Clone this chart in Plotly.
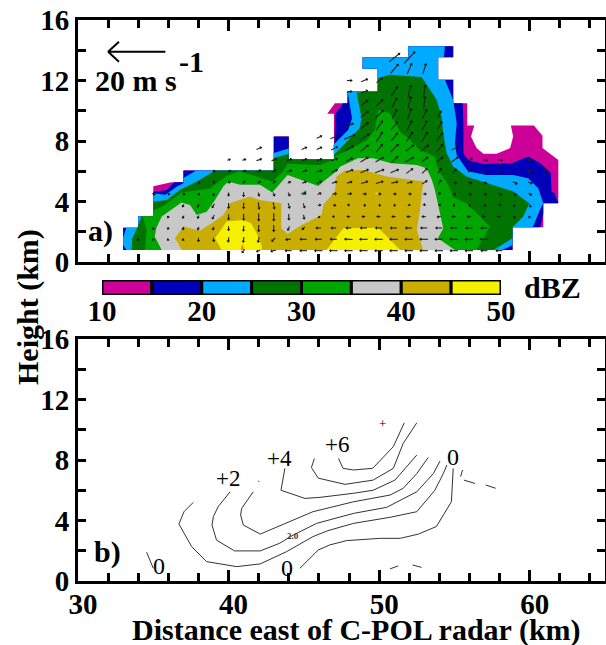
import math
import plotly.graph_objects as go

W, H = 606, 645
FONT = "Liberation Serif"

# --- panel a: reflectivity areas (km east, km height); each is painted over the previous one
dbz_levels = [10, 15, 20, 25, 30, 35, 40, 45]
dbz_colors = ["#CC0099", "#0000BB", "#00AAFF", "#007300", "#00A600", "#C8C8C8", "#C9AD00", "#F5F000"]

area_x_10 = [33,33,34,34,35,35,36.2,37,37,43,43,44,44,47,47,46.55,47.06,47.9,47.9,49.9,49.9,48.9,48.9,51.93,51.93,54.92,54.92,53.92,53.92,54.92,54.92,55.85,55.85,56.32,56.1,56.47,56.92,57.8,58.7,58.9,58.75,60.28,60.85,60.85,61.9,61.9,60.9,60.9,58.86,58.86]
area_y_10 = [.8,2.27,2.27,3.03,3.03,5.0,5.27,5.27,6.05,6.05,8.3,8.3,6.8,6.8,9.8,9.8,10.5,10.5,11.28,11.28,12.78,12.78,13.53,13.53,14.26,14.26,13.53,13.53,12.05,12.05,10.5,10.5,9.03,9.03,8.3,7.53,7.15,7.15,7.53,8.3,9.03,9.03,8.34,7.53,6.75,3.88,3.88,2.3,2.3,.8]

area_x_15 = [33,33,34,34,35,35,35.85,36.4,37,37,43,43,44,44,47,47.05,47.1,47.6,47.9,47.9,49.9,49.9,48.9,48.9,51.93,51.93,54.92,54.92,53.92,53.92,54.92,54.92,55.55,55.6,55.6,55.92,56.92,58.8,59.9,60.7,61.4,61.45,61.65,61.9,60.9,60.9,60.7,58.86,58.86]
area_y_15 = [.8,2.27,2.27,3.03,3.03,4.65,4.75,5.27,5.27,6.05,6.05,8.3,8.3,6.8,6.8,8.7,9.8,10.5,10.5,11.28,11.28,12.78,12.78,13.53,13.53,14.26,14.26,13.53,13.53,12.05,12.05,10.5,10.5,9.03,7.15,6.75,6.48,6.53,6.97,6.53,5.9,4.65,4.55,3.88,3.88,3.2,2.3,2.3,.8]

area_x_20 = [33.23,33,33,33.2,34,34,35,35,35.8,36.6,37,37,37.85,43,43,44,44,47,46.95,47.95,48.2,47.95,47.9,49.9,49.9,48.9,48.9,51.93,51.93,54.37,54.3,53.92,53.92,54.37,54.92,55.15,55.03,55.15,55.5,55.9,57.1,58.9,59.9,60.57,60.9,60.68,60.2,58.86,58.86,58.15]
area_y_20 = [.8,1.1,1.6,2.27,2.27,3.03,3.03,4.55,4.45,5.0,5.2,5.55,6.05,6.05,7.2,7.5,6.8,6.8,7.74,8.74,9.5,10.83,11.28,11.28,12.78,12.78,13.53,13.53,14.26,14.26,13.55,13.53,12.05,12.05,10.7,9.18,7.86,7.08,6.6,6.0,5.76,5.76,5.54,4.87,3.88,3.45,2.3,2.3,1.1,.8]

area_x_25 = [33.56,33.6,33.94,34.23,35,35,35.9,36.8,37.9,39.1,43,43,44,44,47,47,48.17,48.7,48.83,48.5,49.9,49.94,50.7,52.82,53.82,54.15,54.26,54.48,54.92,55.8,58.9,59.97,59.57,58.86,58.86,57.6]
area_y_25 = [.8,1.57,2.27,3.03,3.03,3.99,4.1,4.8,5.32,6.05,6.05,6.87,7.15,6.8,6.8,7.08,8.3,8.85,9.5,11.21,11.28,12.16,12.38,12.23,10.73,9.62,8.52,7.2,6.31,5.65,4.66,3.88,3.0,2.3,1.57,.8]

area_x_30 = [34.45,34.55,34.3,35,35,35.67,36.88,38.77,39.87,40.76,42.9,43.6,43.92,46.07,46.95,47.06,48.17,49.17,49.72,49.94,50.72,51.38,52.05,52.7,53.7,53.93,54.6,54.9,55.8,57.36,56.47]
area_y_30 = [.8,2.1,3.03,3.03,3.4,3.71,4.59,4.88,5.7,6.0,5.32,5.98,6.5,6.42,6.76,6.97,7.52,8.07,8.74,10.07,9.84,8.63,8.08,7.4,6.97,6.1,5.1,4.3,3.88,2.34,.8]

area_x_35 = [35.56,35.1,35.2,35.56,36.88,37.44,37.88,38.55,39.1,39.65,39.98,40.76,42.08,42.9,43.92,45.96,46.3,47.17,47.4,48.6,49.6,50.8,52.5,53.15,53.5,53.7,54.04,54.26,53.9,55.03]
area_y_35 = [.8,1.68,2.23,3,3.93,3.77,3.11,3.33,4.1,4.99,5.32,5.1,5.1,4.59,5.76,5.03,5.32,6,6.3,6.86,6.86,6.53,6.42,6.2,5.43,4.77,3.22,2.23,1.57,.8]

area_x_40 = [36.9,36.44,37,38.1,38.87,39.65,40.1,41.4,42.08,43.5,43.5,43.92,44.85,46.18,46.3,47.06,47.17,47.73,48.95,50.5,52.93,52.71,52.5,52.93]
area_y_40 = [.8,1.57,2.34,2.07,2.56,3.1,3.88,4.33,4.1,3.88,2.23,1.85,2.45,3.1,3.8,4.66,5.65,6.05,6.09,5.65,5.32,3.44,2.1,.8]

area_x_45a = [39.54,39.1,39.87,40.98,41.5,41.86,42.2,42.2]
area_y_45a = [.8,1.57,2.67,2.78,2.56,1.9,1.1,.8]
area_x_45b = [46.5,47.62,49.94,50.5,51.4]
area_y_45b = [.8,2.23,2.27,1.68,.8]

patch_green_x, patch_green_y = [44.75,45.15,45.15], [4.5,4.75,4.45]
patch_orange_x, patch_orange_y = [40.8,40.9,41.05], [.8,1.2,.8]
patch_yellow_x, patch_yellow_y = [49.65,49.95,49.9], [4.55,4.6,4.5]

# --- panel a: wind (m/s along the picture's axes), one row per height
wind_rows = [
    (0.75, 41, [-.8,-1,-1.5,-2,-2.2,-2.5,-2.5,-2.5,-2.5,-2.5,-2.5,-2.5,-2.5,-2.5,-2.5,-2.5,-2,-2], [-1,-.5,-.3,0,0,0,0,0,0,0,0,0,0,0,0,0,0,0]),
    (1.5, 34, [-.2,-.2,-.3,-.3,0,.2,-.2,-.2,-.3,-1,-1.5,-2,-2,-2,-2.5,-2.5,-2.5,-2.5,-2.5,-2.5,-2.5,-2.5,-2.5,-2.5], [-.3,-.3,-.3,-.3,-1,-1,-1.3,-1.5,-1.5,-1,-.2,0,0,0,.1,0,0,0,0,0,0,0,0,0]),
    (2.25, 35, [0,-.2,-.3,-.3,-.3,0,-.1,0,0,-.5,-.8,-1.5,-1.5,-1.5,-2,-2,-2,-2,-2,-2,-2,-2,-2], [-.5,-.5,-.7,-.8,-.8,-1.2,-1.6,-2,-2,-1.2,-.7,0,0,0,0,0,0,0,0,0,0,0,0]),
    (3, 36, [-.2,-.3,-.4,-.6,0,0,0,0,.1,.2,.2,-.4,-.8,-.8,-1,-1,-1,-1,-1,-1,-1,-1,-.8,-.3,-.2], [-.4,-.7,-.8,-1.1,-1.7,-2,-2.3,-2.4,-1.8,-1.2,-.3,0,0,0,0,0,0,0,-.2,0,0,0,0,-.5,-.4]),
    (3.75, 37, [-.4,-.5,-.7,0,0,.3,.4,.4,.4,.8,.7,-.4,.5,.4,.3,0,.1,.3,-.4,.3,.3,.2,-.3,.5], [-.7,-.8,-1.1,-1.6,-1.8,-2,-2,-1.5,-1.3,.2,0,.2,0,0,0,.2,.5,.3,0,-.2,-.2,.3,-.4,-.7]),
    (4.5, 35, [.7,.5,.6,.3,0,0,0,.2,.4,.5,.9,1,1.2,1.2,1,.7,.8,.8,.8,.2,.2,.8,.8,.8,.8,.8], [-.2,-.2,0,-.3,-.7,-1,-1.2,-1,-.9,-.9,.4,.4,.2,.2,0,0,0,0,0,.7,-.4,-.3,-.3,-.4,-.5,-.5]),
    (5.25, 38, [.5,.3,.7,.5,.7,.7,.7,1.2,1.2,1.5,1.5,2,2.2,2,1.5,1.5,.8,1,1,1,0,1.2,1.2], [0,.3,.3,.7,.7,.7,.5,.5,.7,.5,.5,.6,.7,.5,.4,1,1.3,-.3,-.3,-.3,0,-.6,-.4]),
    (6, 39, [.5,1,1,1,1,1.5,1.5,1.5,1.8,2.2,2.5,2.8,2.5,2,1.5,1,1,1,1.2,1.2,0,1.5,1.2], [.1,.2,.3,.5,.5,.5,.5,.5,.8,.8,1,1,1,1.5,1.5,1.5,1,.5,-.3,-.3,0,-.8,-.3]),
    (6.75, 40, [.7,1,1.5,1.5,1.5,1.5,1.5,1.8,2,2.5,2.5,2,2.5,2,2,2,1.5,1.5,1.5,0,1.5], [.3,.3,.5,.5,.5,.5,.5,.8,1,1.5,1.5,2,1.5,1.5,1.5,1.5,1,-.3,-.2,0,-.8]),
    (7.5, 42, [1.5,0,0,1.5,1.5,2,2.5,2.5,2,2.5,2.5,2.5,2,2], [.7,0,0,.7,.7,1,1.5,2,2.5,2.5,2,2,2.5,1]),
    (8.25, 46, [1.5,2.5,3.5,3,2,2,2,2,2], [.7,1,1.5,2,3,2.5,3,3,2.5]),
    (9, 48, [2.5,2.5,2,2,1.5,1.5,1.5], [1.5,2,3,2.5,3,3,2.5]),
    (9.75, 49, [2.5,2.5,1.5,1.2,1.5,1], [2,2.5,3,3.5,3,2]),
    (10.5, 49, [2.2,2.2,1.5,1,.5], [1.7,2,3,4,4]),
    (11.25, 48, [1.5,2,0,2,1,.7], [.2,.8,0,3,4,4]),
    (12, 48, [1.5,2,1.8], [0,.8,1.5]),
    (12.75, 51, [2.5,1.5,1], [3,3.5,3.3]),
    (13.5, 51, [3.5,3.5], [2.8,3.8]),
]
KM_PER_MS = 0.19
ref_speed = 20
ref_head_x, ref_y = 32.0, 13.9

# --- panel b: anomaly contour lines
c0_x = [44.74,45.96,46.7,47.84,50.05,51.4,52.6,53.8,54.8,54.92]
c0_y = [.84,2.05,2.38,2.67,2.82,2.82,3.1,3.6,5.24,7.45]
c1_x = [37.66,37.04,36.7,37.55,38.54,40.54,42.1,43.85,45.6,46.6,48.3,50.72,52.5,53.7,54.26,54.5]
c1_y = [5.2,4.58,3.77,2.27,1.28,.95,1.13,1.94,2.93,3.33,3.81,4.21,4.58,6.0,7.1,7.67]
c2_x = [40.1,39.3,38.99,38.9,39.2,40.4,42.1,43.4,44.3,45.85,48.3,50.5,52.5,53.6,54.04]
c2_y = [5.9,4.9,4.25,3.7,2.7,1.99,1.99,2.5,3.04,3.81,4.47,4.87,5.9,7.1,7.93]
c3_x = [41.64,40.87,40.8,40.98,42.1,44.3,45.6,48.3,50.72,51.6,52.5,53.26]
c3_y = [5.9,4.8,4.36,3.7,3.1,4.03,4.58,5.24,5.68,6.13,7.1,8.17]
c4_x = [43.74,43.48,45.07,46.07,48.3,49.6,51.05,51.93,52.5]
c4_y = [7.45,6.0,5.46,5.53,5.8,6.0,6.67,7.67,8.33]
c5_x = [45.7,45.5,45.96,47.2,47.73,49.6,50.94,51.6,52.5]
c5_y = [8.1,7.5,6.8,6.5,6.39,6.67,7.45,9.1,10.46]
c6_x = [47.3,47.6,48.3,49.57,50.94,51.67]
c6_y = [8.1,7.45,7.34,7.45,8.88,10.46]
c7_x, c7_y = [34.56,35], [1.9,.84]
c8_x, c8_y = [42,42.02], [6.63,6.55]
c9_x, c9_y = [55.54,55.41], [7.34,6.9]
c10_x, c10_y = [55.63,56.36], [6.67,6.45]
c11_x, c11_y = [57.07,57.74], [6.35,6.13]
c12_x, c12_y = [50.72,51.27], [.8,1.0]
c13_x, c13_y = [52.22,52.82], [1.06,.9]
contour_lines = [(c0_x,c0_y),(c1_x,c1_y),(c2_x,c2_y),(c3_x,c3_y),(c4_x,c4_y),(c5_x,c5_y),(c6_x,c6_y),
                 (c7_x,c7_y),(c8_x,c8_y),(c9_x,c9_y),(c10_x,c10_y),(c11_x,c11_y),(c12_x,c12_y),(c13_x,c13_y)]
contour_labels = [("+2",39.96,6.8,23),("+4",43.4,8.12,23),("+6",47.2,9.05,23),("0",35.38,.99,24),
                  ("0",43.88,.86,24),("0",54.9,8.19,24),("+",50.25,10.44,13)]

y_ticks = [0,2,4,6,8,10,12,14,16]
y_tick_text = ["0","","4","","8","","12","","16"]
cbar_ticks = [10,20,30,40,50]

fig = go.Figure()

def area(x, y, color):
    fig.add_trace(go.Scatter(x=x+x[:1], y=y+y[:1], mode="lines", fill="toself", fillcolor=color,
                             line=dict(width=0, color=color), hoverinfo="skip", showlegend=False,
                             xaxis="x", yaxis="y"))

areas = [(area_x_10,area_y_10),(area_x_15,area_y_15),(area_x_20,area_y_20),(area_x_25,area_y_25),
         (area_x_30,area_y_30),(area_x_35,area_y_35),(area_x_40,area_y_40)]
for (ax_, ay_), col in zip(areas, dbz_colors):
    area(ax_, ay_, col)
area(area_x_45a, area_y_45a, dbz_colors[7])
area(area_x_45b, area_y_45b, dbz_colors[7])
area(patch_green_x, patch_green_y, "#00A600")
area(patch_orange_x, patch_orange_y, "#FF8000")
area(patch_yellow_x, patch_yellow_y, "#F5F000")

# wind vectors
lx, ly, hx, hy, ha = [], [], [], [], []
for y0, x0, us, ws in wind_rows:
    for i, (u, w) in enumerate(zip(us, ws)):
        if u == 0 and w == 0:
            continue
        xc = x0 + i
        du, dw = u*KM_PER_MS, w*KM_PER_MS
        lx += [xc-du/2, xc+du/2, None]
        ly += [y0-dw/2, y0+dw/2, None]
        hx.append(xc+du/2); hy.append(y0+dw/2)
        ha.append(math.degrees(math.atan2(u, w)))
fig.add_trace(go.Scatter(x=lx, y=ly, mode="lines", line=dict(color="#222222", width=1.1),
                         hoverinfo="skip", showlegend=False, xaxis="x", yaxis="y"))
fig.add_trace(go.Scatter(x=hx, y=hy, mode="markers", marker=dict(symbol="triangle-up", size=3, color="#111111", angle=ha, line=dict(width=0)),
                         hoverinfo="skip", showlegend=False, xaxis="x", yaxis="y"))
# reference arrow
tail = ref_head_x + ref_speed*KM_PER_MS
fig.add_trace(go.Scatter(x=[tail, ref_head_x, ref_head_x+.72, None, ref_head_x, ref_head_x+.72],
                         y=[ref_y, ref_y, ref_y+.66, None, ref_y, ref_y-.66], mode="lines",
                         line=dict(color="black", width=2), hoverinfo="skip", showlegend=False, xaxis="x", yaxis="y"))

# panel b contours
for cx, cy in contour_lines:
    fig.add_trace(go.Scatter(x=cx, y=cy, mode="lines", line=dict(color="#333333", width=1),
                             hoverinfo="skip", showlegend=False, xaxis="x2", yaxis="y2"))

# colour bar
fig.add_trace(go.Bar(x=[5]*8, base=dbz_levels, y=[0]*8, orientation="h", width=1,
                     marker=dict(color=dbz_colors, line=dict(color="black", width=3)),
                     hoverinfo="skip", showlegend=False, xaxis="x3", yaxis="y3"))

tickfont = dict(family=FONT, size=29, color="black", weight="bold")
common_x = dict(range=[30,65], showline=True, linecolor="black", linewidth=3, mirror="ticks", showgrid=False,
                zeroline=False, ticks="inside", tickmode="linear", tick0=30, dtick=10, ticklen=11, tickwidth=3, tickcolor="black",
                minor=dict(tickmode="linear", tick0=30, dtick=2, ticks="inside", ticklen=8, tickwidth=2.5, tickcolor="black", showgrid=False))
common_y = dict(range=[0,16], showline=True, linecolor="black", linewidth=3, mirror="ticks", showgrid=False,
                zeroline=False, ticks="inside", tickmode="array", tickvals=y_ticks, ticktext=y_tick_text, ticklen=8, tickwidth=2.5,
                tickcolor="black", tickfont=tickfont)

def dom_x(a, b): return [a/W, b/W]
def dom_y(top, bottom): return [1-bottom/H, 1-top/H]

layout = dict(
    width=W, height=H, margin=dict(l=0, r=0, t=0, b=0, autoexpand=False), autosize=False,
    paper_bgcolor="white", plot_bgcolor="rgba(0,0,0,0)", barmode="overlay", showlegend=False,
    xaxis=dict(common_x, domain=dom_x(78,605), anchor="y", showticklabels=False),
    yaxis=dict(common_y, domain=dom_y(20,262), anchor="x"),
    xaxis2=dict(common_x, domain=dom_x(78,605), anchor="y2", tickfont=tickfont, ticklabelshift=5, ticklabelstandoff=-5),
    yaxis2=dict(common_y, domain=dom_y(339,581), anchor="x2"),
    xaxis3=dict(range=[10,50], domain=dom_x(102,501), anchor="y3", showgrid=False, zeroline=False, showline=False,
                tickmode="array", tickvals=cbar_ticks, tickfont=tickfont, ticks="", ticklabelstandoff=-4),
    yaxis3=dict(range=[-.5,.5], domain=dom_y(280,295), anchor="x3", showgrid=False, zeroline=False, showticklabels=False, ticks="", showline=False),
)

ann = []
def paper_text(text, px, py, size=30, bold=True, angle=0, anchor="center"):
    ann.append(dict(text=f"<b>{text}</b>" if bold else text, x=px/W, y=1-py/H, xref="paper", yref="paper",
                    showarrow=False, xanchor=anchor, yanchor="middle", textangle=angle,
                    font=dict(family=FONT, size=size, color="black")))
paper_text("Height (km)", 28, 307, angle=-90)
paper_text("Distance east of C-POL radar (km)", 356, 630)
paper_text("dBZ", 552, 287)
paper_text("a)", 100, 231)
paper_text("b)", 107, 552)
paper_text("20 m s", 136, 81)
paper_text("-1", 191, 62)
for text, lx_, ly_, size in contour_labels:
    ann.append(dict(text=text, x=lx_, y=ly_, xref="x2", yref="y2", showarrow=False,
                    font=dict(family=FONT, size=size, color="black")))
ann.append(dict(text="<b>2.0</b>", x=44.28, y=2.97, xref="x2", yref="y2", showarrow=False,
                font=dict(family=FONT, size=9, color="#333333")))
layout["annotations"] = ann
fig.update_layout(**layout)
fig.write_html("out.html", config={"displayModeBar": False},
               post_script="document.body.style.margin='0';document.documentElement.style.overflow='hidden';")
